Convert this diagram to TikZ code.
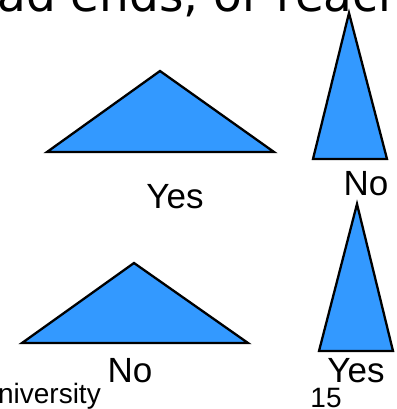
\documentclass[tikz,border=0pt]{standalone}
\usepackage{fontspec}
\setmainfont{Liberation Sans}
\newfontfamily\slidefont{DejaVu Sans}
\definecolor{triblue}{RGB}{51,153,255}

\begin{document}
\begin{tikzpicture}[x=1pt,y=-1pt,
  tri/.style={fill=triblue,draw=black,line width=2.3pt},
  lbl/.style={anchor=base,inner sep=0pt,font=\fontsize{35}{40}\selectfont},
  foot/.style={inner sep=0pt,font=\fontsize{28}{34}\selectfont}]
\useasboundingbox (0,0) rectangle (396,409);
\node[anchor=base west,inner sep=0pt,font=\slidefont\fontsize{47}{56}\selectfont] (head) at (-3,12) {ad ends, or reach};
%left column
\draw[tri] (47,152) -- (160,71) -- (274,152) -- cycle;
\node[lbl] (yesa) at (175,208) {Yes};
\draw[tri] (22,343) -- (134,263) -- (248,343) -- cycle;
\node[lbl] (noa) at (130,382) {No};
%right column
\draw[tri] (313,159) -- (349,13) -- (387,159) -- cycle;
\node[lbl] (nob) at (366,195) {No};
\draw[tri] (319,351) -- (357,204) -- (393,351) -- cycle;
\node[lbl] (yesb) at (356,382) {Yes};
%footer
\node[foot,anchor=base east] (uni) at (101,403) {University};
\node[foot,anchor=base] (page) at (326,407) {15};
\end{tikzpicture}
\end{document}
